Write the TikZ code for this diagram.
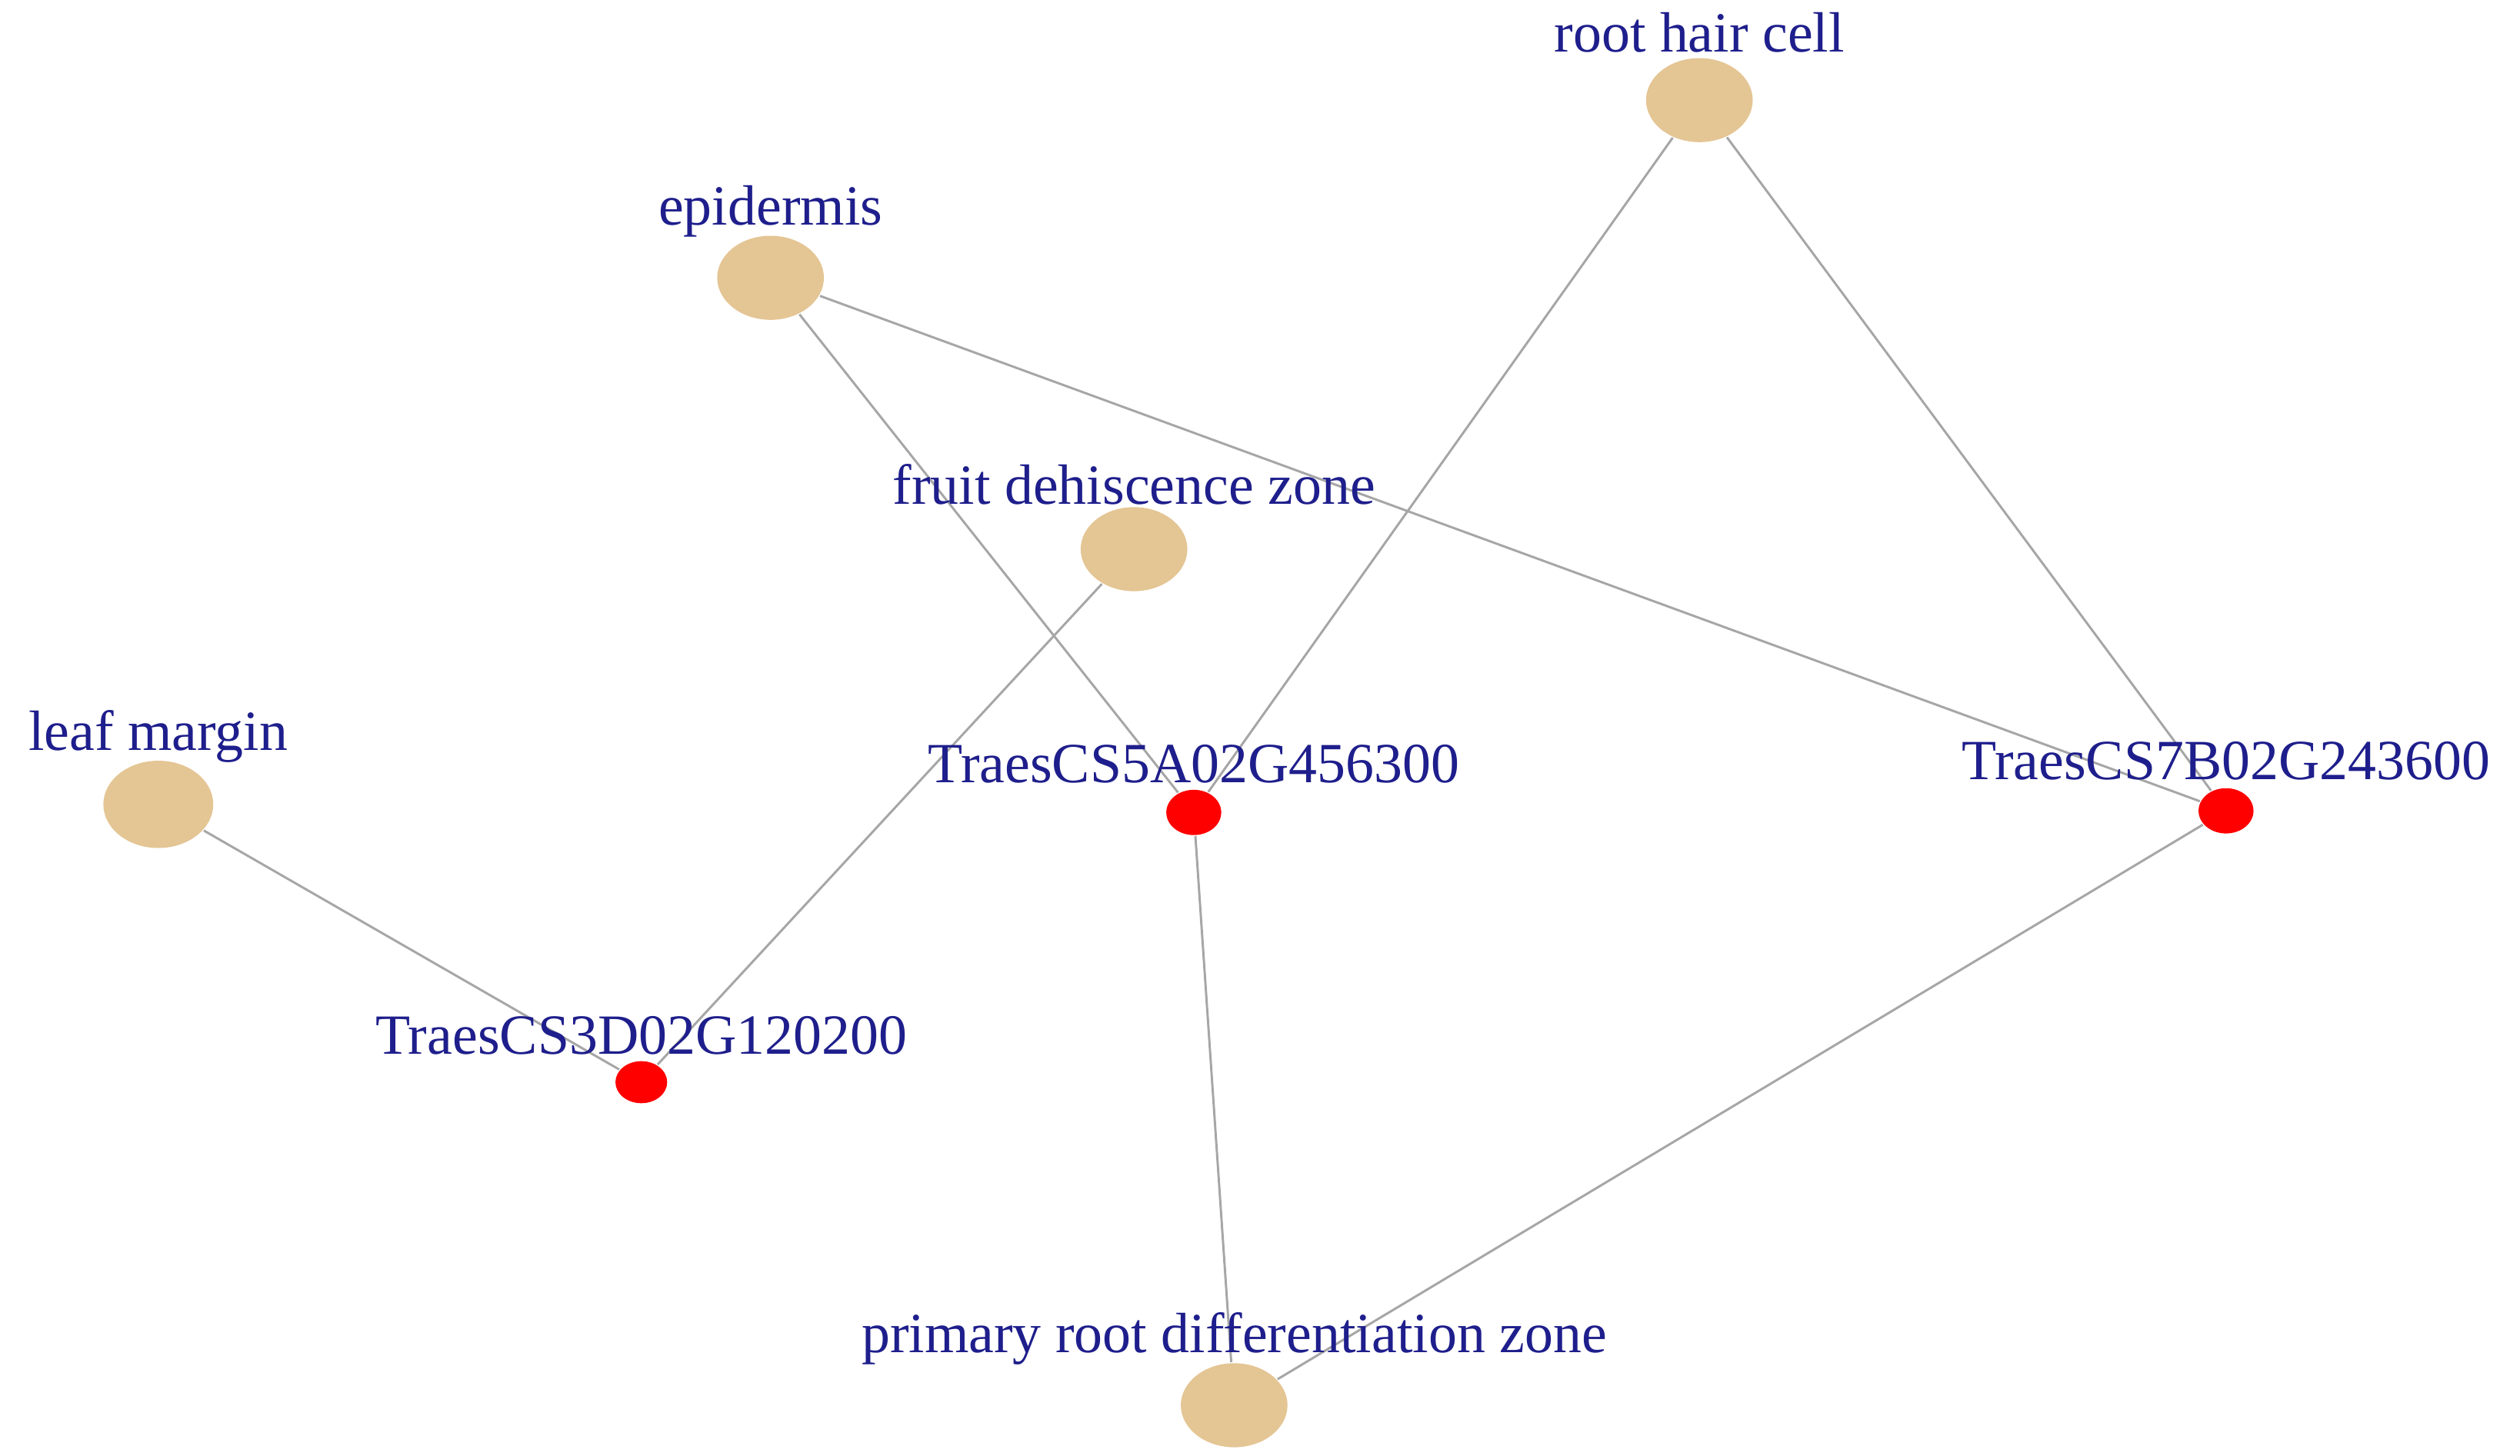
\documentclass[tikz,border=0pt]{standalone}
\usepackage{fontspec}
\setmainfont{Liberation Serif}
\usetikzlibrary{shapes.geometric}
\definecolor{tan}{RGB}{228,197,148}
\definecolor{lbl}{RGB}{30,30,140}
\begin{document}
\begin{tikzpicture}[x=0.01cm,y=-0.01cm,
  tissue/.style={ellipse,fill=tan,minimum width=0.66cm,minimum height=0.52cm,inner sep=0pt},
  gene/.style={ellipse,fill=red,minimum width=0.34cm,minimum height=0.28cm,inner sep=0pt},
  lab/.style={text=lbl,font=\fontsize{10}{12}\selectfont,inner sep=0pt},
  edge/.style={draw=gray!70,line width=0.4pt}]
\path[use as bounding box] (0,0) rectangle (1560,901);
\node[tissue] (rh) at (1052,62) {};
\node[tissue] (ep) at (477,172) {};
\node[tissue] (fd) at (702,340) {};
\node[tissue,minimum width=0.68cm,minimum height=0.54cm] (lm) at (98,498) {};
\node[tissue] (pr) at (764,870) {};
\node[gene] (g5) at (739,503) {};
\node[gene] (g7) at (1378,502) {};
\node[gene,minimum width=0.32cm,minimum height=0.26cm] (g3) at (397,670) {};
\begin{scope}[on background layer/.style={}]
\end{scope}
\begin{pgfinterruptboundingbox}\end{pgfinterruptboundingbox}
\draw[edge] (ep) -- (g5);
\draw[edge] (ep) -- (g7);
\draw[edge] (rh) -- (g5);
\draw[edge] (rh) -- (g7);
\draw[edge] (fd) -- (g3);
\draw[edge] (lm) -- (g3);
\draw[edge] (g5) -- (pr);
\draw[edge] (g7) -- (pr);
\node[lab] (lrh) at (1052,20) {root hair cell};
\node[lab] (lep) at (477,131) {epidermis};
\node[lab] (lfd) at (702,300) {fruit dehiscence zone};
\node[lab] (llm) at (98,456) {leaf margin};
\node[lab] (lg5) at (739,473) {TraesCS5A02G456300};
\node[lab] (lg7) at (1378,471) {TraesCS7B02G243600};
\node[lab] (lg3) at (397,641) {TraesCS3D02G120200};
\node[lab] (lpr) at (764,829) {primary root differentiation zone};
\end{tikzpicture}
\end{document}
